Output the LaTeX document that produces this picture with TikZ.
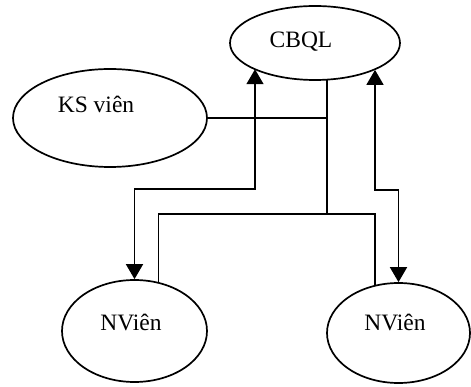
\documentclass[tikz,border=0pt]{standalone}
\usepackage{fontspec}
\setmainfont{Liberation Serif}
\usetikzlibrary{shapes.geometric,arrows.meta}
\begin{document}
\begin{tikzpicture}[x=1pt,y=-1pt,
  actor/.style={draw,ellipse,line width=1.7pt,inner sep=0pt},
  lbl/.style={anchor=base,inner sep=0pt,font=\fontsize{23.5}{28}\selectfont},
  link/.style={line width=1.7pt},
  flow/.style={link,{Triangle[width=17pt,length=15pt]}-{Triangle[width=17pt,length=15pt]}}]
\useasboundingbox (0,0) rectangle (471,387);

% entities
\node[actor,minimum width=170pt,minimum height=74pt] (cbql) at (315,43) {};
\node[actor,minimum width=194pt,minimum height=98pt] (ks) at (110,118) {};
\node[actor,minimum width=145pt,minimum height=102pt] (nv1) at (134.5,331) {};
\node[actor,minimum width=143pt,minimum height=100pt] (nv2) at (398.5,333) {};

% names
\node[lbl] (tcbql) at (301,48) {CBQL};
\node[lbl] (tks) at (96,113) {KS viên};
\node[lbl] (tnv1) at (131,330) {NViên};
\node[lbl] (tnv2) at (395,330) {NViên};

% junctions and bends
\coordinate (j1) at (327,118);
\coordinate (j2) at (327,214);
\coordinate (b1) at (255,189);
\coordinate (b2) at (375,190);

% shared line from CBQL
\draw[link] (j2 |- cbql.-71.8) -- (j2);
\draw[link] (ks.east) -- (j1);
\draw[link] (nv1.64.1) |- (j2) -| (nv2.116);

% two-way flows
\draw[flow] (nv1.north) |- (b1) -- (b1 |- cbql.203.6);
\draw[flow] (nv2.north) |- (b2) -- (b2 |- cbql.336.4);
\end{tikzpicture}
\end{document}
